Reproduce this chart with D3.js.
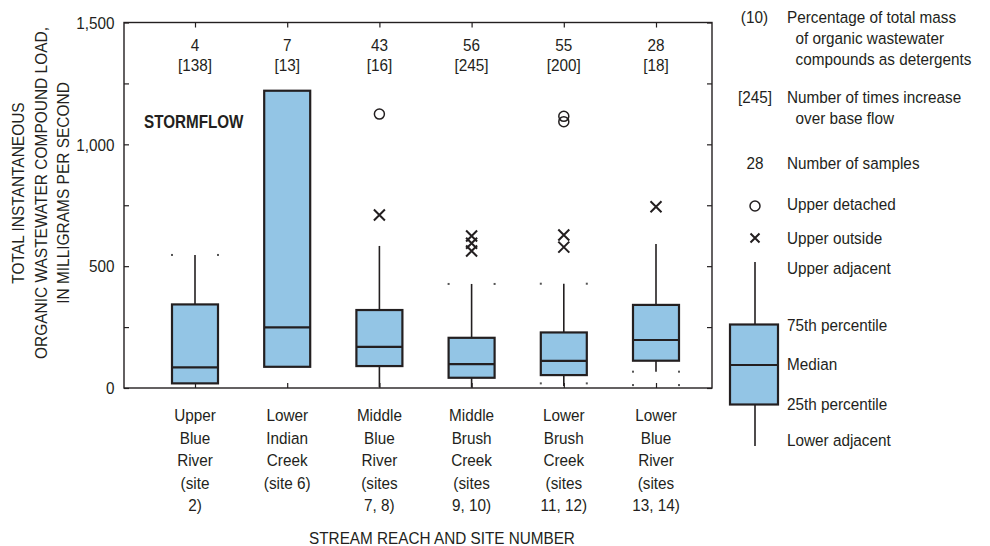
<!DOCTYPE html>
<html>
<head>
<meta charset="utf-8">
<script src="https://cdn.jsdelivr.net/npm/d3@7/dist/d3.min.js"></script>
<style>
  html, body { margin: 0; padding: 0; background: #fff; }
  svg text { font-family: "Liberation Sans", Arial, sans-serif; fill: #231f20; }
</style>
</head>
<body>
<svg id="chart" width="990" height="546"></svg>
<script>
// Stream reaches (multi-line labels) and their box-plot statistics (mg/s)
const categories = ["Upper Blue River", "Lower Indian Creek", "Middle Blue River",
                    "Middle Brush Creek", "Lower Brush Creek", "Lower Blue River"];
const categoryLines = [
  ["Upper", "Blue", "River", "(site", "2)"],
  ["Lower", "Indian", "Creek", "(site 6)"],
  ["Middle", "Blue", "River", "(sites", "7, 8)"],
  ["Middle", "Brush", "Creek", "(sites", "9, 10)"],
  ["Lower", "Brush", "Creek", "(sites", "11, 12)"],
  ["Lower", "Blue", "River", "(sites", "13, 14)"]
];
const sampleCounts   = [4, 7, 43, 56, 55, 28];
const increaseFactor = [138, 13, 16, 245, 200, 18];

const lowerAdjacent  = [19, 87, 4, 2, 8, 67];
const q1             = [19, 87, 90, 42, 53, 112];
const medians        = [85, 249, 169, 98, 111, 197];
const q3             = [343, 1220, 320, 206, 228, 341];
const upperAdjacent  = [546, 1220, 583, 427, 428, 591];
const upperOutside   = [[], [], [710], [624, 594, 562], [628, 578], [744]];
const upperDetached  = [[], [], [1124], [], [1115, 1093], []];
// faint dotted whisker-cap marks left by the plotting program
const capDots        = [[546], [], [], [427], [428, 19], [67, 12]];

const yTicks = [0, 500, 1000, 1500];
const yMinorTicks = [0, 250, 500, 750, 1000, 1250, 1500];

const fillColor = "#93c5e5";
const ink = "#231f20";
const SX = 0.9; // horizontal squeeze for a condensed look

const svg = d3.select("#chart");

// Places a condensed text at (x, y)
function label(parent, x, y, str, opts = {}) {
  const sx = opts.sx ?? SX;
  const t = parent.append("text")
    .attr("transform", `translate(${x},${y}) scale(${sx},1)`)
    .attr("font-size", opts.size ?? 17)
    .attr("text-anchor", opts.anchor ?? "start")
    .text(str);
  if (opts.weight) t.attr("font-weight", opts.weight);
  return t;
}

// Plot frame
const plotLeft = 124, plotRight = 712, plotTop = 22.5, plotBottom = 388;
const y = d3.scaleLinear().domain([0, 1500]).range([plotBottom, plotTop]);
const x = d3.scalePoint().domain(categories).range([195, 656]);
const halfBox = 23;

svg.append("rect")
  .attr("x", plotLeft).attr("y", plotTop)
  .attr("width", plotRight - plotLeft).attr("height", plotBottom - plotTop)
  .attr("fill", "none").attr("stroke", ink).attr("stroke-width", 1.4);

// Left axis with inward ticks
const yAxisL = svg.append("g").attr("transform", `translate(${plotLeft},0)`)
  .call(d3.axisRight(y).tickValues(yMinorTicks).tickSize(5).tickFormat(""));
yAxisL.select(".domain").remove();
yAxisL.selectAll("line").attr("stroke", ink).attr("stroke-width", 1.2);

const yLabels = svg.append("g");
yTicks.forEach(d => label(yLabels, plotLeft - 9.5, y(d) + 6.3, d3.format(",")(d), { anchor: "end" }));

// Right axis with inward ticks
const yAxisR = svg.append("g").attr("transform", `translate(${plotRight},0)`)
  .call(d3.axisLeft(y).tickValues(yMinorTicks).tickSize(5).tickFormat(""));
yAxisR.select(".domain").remove();
yAxisR.selectAll("line").attr("stroke", ink).attr("stroke-width", 1.2);

// Category ticks on top and bottom edges
const xTop = svg.append("g").attr("transform", `translate(0,${plotTop})`)
  .call(d3.axisBottom(x).tickSize(5).tickFormat(""));
xTop.select(".domain").remove();
xTop.selectAll("line").attr("stroke", ink).attr("stroke-width", 1.2);
const xBot = svg.append("g").attr("transform", `translate(0,${plotBottom})`)
  .call(d3.axisTop(x).tickSize(5).tickFormat(""));
xBot.select(".domain").remove();
xBot.selectAll("line").attr("stroke", ink).attr("stroke-width", 1.2);

// Y axis title (three rotated lines)
["TOTAL INSTANTANEOUS", "ORGANIC WASTEWATER COMPOUND LOAD,", "IN MILLIGRAMS PER SECOND"]
  .forEach((t, i) => {
    svg.append("text")
      .attr("transform", `translate(${24 + i * 22.6},193) rotate(-90) scale(0.95,1)`)
      .attr("text-anchor", "middle").attr("font-size", 16.3).text(t);
  });

// X axis title
label(svg, 442, 544, "STREAM REACH AND SITE NUMBER", { anchor: "middle", size: 17 });

// Category labels
categories.forEach((c, i) => {
  categoryLines[i].forEach((line, j) =>
    label(svg, x(c), 421 + j * 22.6, line, { anchor: "middle" }));
});

// Counts and increase factors above each box
categories.forEach((c, i) => {
  label(svg, x(c), 51, String(sampleCounts[i]), { anchor: "middle" });
  label(svg, x(c), 70.5, `[${increaseFactor[i]}]`, { anchor: "middle" });
});

label(svg, 144, 128, "STORMFLOW", { size: 17.5, weight: "bold", sx: 0.87 });

// Draws one box with whiskers centred on cx using scale-space values
function drawBox(g, cx, lo, b1, med, b3, hi, w) {
  g.append("line").attr("x1", cx).attr("x2", cx).attr("y1", y(hi)).attr("y2", y(b3))
    .attr("stroke", ink).attr("stroke-width", 1.6);
  g.append("line").attr("x1", cx).attr("x2", cx).attr("y1", y(b1)).attr("y2", y(lo))
    .attr("stroke", ink).attr("stroke-width", 1.6);
  g.append("rect").attr("x", cx - w).attr("width", 2 * w)
    .attr("y", y(b3)).attr("height", y(b1) - y(b3))
    .attr("fill", fillColor).attr("stroke", ink).attr("stroke-width", 2.2);
  g.append("line").attr("x1", cx - w).attr("x2", cx + w)
    .attr("y1", y(med)).attr("y2", y(med)).attr("stroke", ink).attr("stroke-width", 2.2);
}

const boxes = svg.append("g");
categories.forEach((c, i) => {
  const cx = x(c);
  const g = boxes.append("g");
  capDots[i].forEach(v => {
    [-halfBox, halfBox].forEach(dx =>
      g.append("rect").attr("x", cx + dx - 1).attr("y", y(v) - 1)
        .attr("width", 2).attr("height", 2).attr("fill", "#555"));
  });
  drawBox(g, cx, lowerAdjacent[i], q1[i], medians[i], q3[i], upperAdjacent[i], halfBox);
  // upper outside values as crosses
  upperOutside[i].forEach(v => {
    g.append("path")
      .attr("d", `M${cx - 5.5},${y(v) - 5.5}L${cx + 5.5},${y(v) + 5.5}M${cx - 5.5},${y(v) + 5.5}L${cx + 5.5},${y(v) - 5.5}`)
      .attr("stroke", ink).attr("stroke-width", 2).attr("fill", "none");
  });
  // upper detached values as open circles
  upperDetached[i].forEach(v => {
    g.append("circle").attr("cx", cx).attr("cy", y(v)).attr("r", 5)
      .attr("fill", "none").attr("stroke", ink).attr("stroke-width", 1.5);
  });
});

// Legend
const lg = svg.append("g");
label(lg, 768, 22.5, "(10)", { anchor: "end" });
label(lg, 787, 22.5, "Percentage of total mass");
label(lg, 795.5, 43.5, "of organic wastewater");
label(lg, 795.5, 64.5, "compounds as detergents");
label(lg, 772, 103, "[245]", { anchor: "end" });
label(lg, 787, 103, "Number of times increase");
label(lg, 795.5, 124, "over base flow");
label(lg, 755, 168.5, "28", { anchor: "middle" });
label(lg, 787, 168.5, "Number of samples");

lg.append("circle").attr("cx", 755).attr("cy", 206).attr("r", 5)
  .attr("fill", "none").attr("stroke", ink).attr("stroke-width", 1.5);
label(lg, 787, 209.5, "Upper detached");
lg.append("path").attr("d", "M750.5,233.5L759.5,242.5M750.5,242.5L759.5,233.5")
  .attr("stroke", ink).attr("stroke-width", 2).attr("fill", "none");
label(lg, 787, 244, "Upper outside");

// Legend explanatory box
lg.append("line").attr("x1", 755).attr("x2", 755).attr("y1", 262).attr("y2", 324.5)
  .attr("stroke", ink).attr("stroke-width", 1.6);
lg.append("line").attr("x1", 755).attr("x2", 755).attr("y1", 404).attr("y2", 446)
  .attr("stroke", ink).attr("stroke-width", 1.6);
lg.append("rect").attr("x", 730).attr("y", 324.5).attr("width", 48).attr("height", 80)
  .attr("fill", fillColor).attr("stroke", ink).attr("stroke-width", 2.2);
lg.append("line").attr("x1", 730).attr("x2", 778).attr("y1", 365).attr("y2", 365)
  .attr("stroke", ink).attr("stroke-width", 2.2);
label(lg, 787, 274, "Upper adjacent");
label(lg, 787, 331, "75th percentile");
label(lg, 787, 370, "Median");
label(lg, 787, 409.5, "25th percentile");
label(lg, 787, 446, "Lower adjacent");
</script>
</body>
</html>
